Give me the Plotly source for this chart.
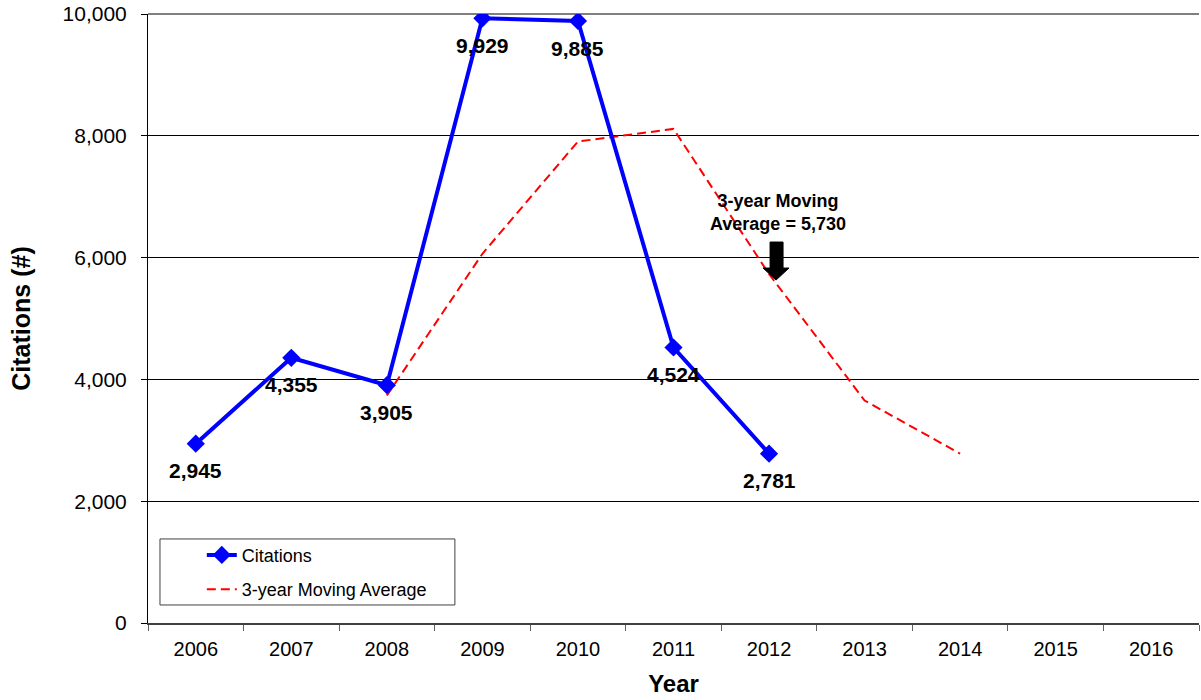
import plotly.graph_objects as go

# ---- data ----
years = ["2006", "2007", "2008", "2009", "2010", "2011", "2012", "2013", "2014", "2015", "2016"]
citation_years = ["2006", "2007", "2008", "2009", "2010", "2011", "2012"]
citations = [2945, 4355, 3905, 9929, 9885, 4524, 2781]
ma_years = ["2008", "2009", "2010", "2011", "2012", "2013", "2014"]
moving_avg = [3735, 6063, 7906, 8113, 5730, 3653, 2781]
y_ticks = [0, 2000, 4000, 6000, 8000, 10000]
callout_year = "2012"
callout_value = 5730

FONT = "Liberation Sans, Arial, sans-serif"

fig = go.Figure()

fig.add_trace(go.Scatter(
    x=ma_years, y=moving_avg, mode="lines", name="3-year Moving Average",
    line=dict(color="#FF0000", width=2, dash="9px,5px"),
    legendgroup="b", legendrank=2,
))
fig.add_trace(go.Scatter(
    x=citation_years, y=citations, mode="lines+markers", name="Citations",
    line=dict(color="#0000FF", width=4),
    marker=dict(symbol="diamond", size=14, color="#0000FF"),
    legendgroup="a", legendrank=1,
))

annotations = []
for yr, v in zip(citation_years, citations):
    annotations.append(dict(
        x=years.index(yr), y=v, xref="x", yref="y", text=f"<b>{v:,}</b>", showarrow=False,
        yshift=-27, font=dict(family=FONT, size=21, color="black"),
    ))

cx = years.index(callout_year)
annotations.append(dict(
    x=cx, y=callout_value, xref="x", yref="y",
    text=f"<b>3-year Moving<br>Average = {callout_value:,}</b>",
    showarrow=False, yanchor="bottom", yshift=38, xshift=9,
    font=dict(family=FONT, size=18, color="black"),
))

shapes = [
    # arrow pointing at moving average value
    dict(type="path", xref="x", yref="y", xsizemode="pixel", ysizemode="pixel",
         xanchor=cx, yanchor=callout_value,
         path="M 7,-6 L -6,6 L 1,6 L 1,32 L 14,32 L 14,6 L 20,6 Z",
         fillcolor="black", line=dict(color="black", width=1)),
    # top border
    dict(type="line", xref="paper", yref="paper", x0=0, x1=1, y0=1, y1=1,
         line=dict(color="#808080", width=2), layer="below"),
    # legend box
    dict(type="rect", xref="paper", yref="paper", x0=0.0114, x1=0.292, y0=0.0296, y1=0.138,
         line=dict(color="#404040", width=1), fillcolor="white", layer="below"),
]

fig.update_layout(
    width=1201, height=700,
    margin=dict(l=148, r=2, t=14, b=77, autoexpand=False),
    paper_bgcolor="white", plot_bgcolor="white",
    font=dict(family=FONT, size=20, color="black"),
    showlegend=True,
    legend=dict(x=0.0512, y=0.1416, xanchor="left", yanchor="top",
                bgcolor="rgba(0,0,0,0)", borderwidth=0,
                font=dict(family=FONT, size=18, color="black"),
                traceorder="grouped", tracegroupgap=8),
    annotations=annotations,
    shapes=shapes,
    xaxis=dict(
        type="category", categoryorder="array", categoryarray=years,
        range=[-0.5, len(years) - 0.5],
        tickson="boundaries", ticks="outside", ticklen=6, tickcolor="#606060",
        ticklabelstandoff=7,
        showline=True, linecolor="#404040", linewidth=2, showgrid=False,
        tickfont=dict(family=FONT, size=20, color="black"),
        title=dict(text="<b>Year</b>", font=dict(family=FONT, size=24, color="black"), standoff=16),
    ),
    yaxis=dict(
        range=[0, 10000], tickvals=y_ticks, tickformat=",",
        showgrid=True, gridcolor="black", gridwidth=1,
        ticks="outside", ticklen=6, tickcolor="black", ticklabelstandoff=10,
        ticklabeloverflow="allow",
        showline=True, linecolor="black", linewidth=1, zeroline=False,
        tickfont=dict(family=FONT, size=21, color="black"),
        title=dict(text="<b>Citations (#)</b>", font=dict(family=FONT, size=25, color="black"), standoff=24),
    ),
)

fig.write_html("out.html", config={"displayModeBar": False},
               post_script="document.body.style.margin='0';document.body.style.overflow='hidden';")
